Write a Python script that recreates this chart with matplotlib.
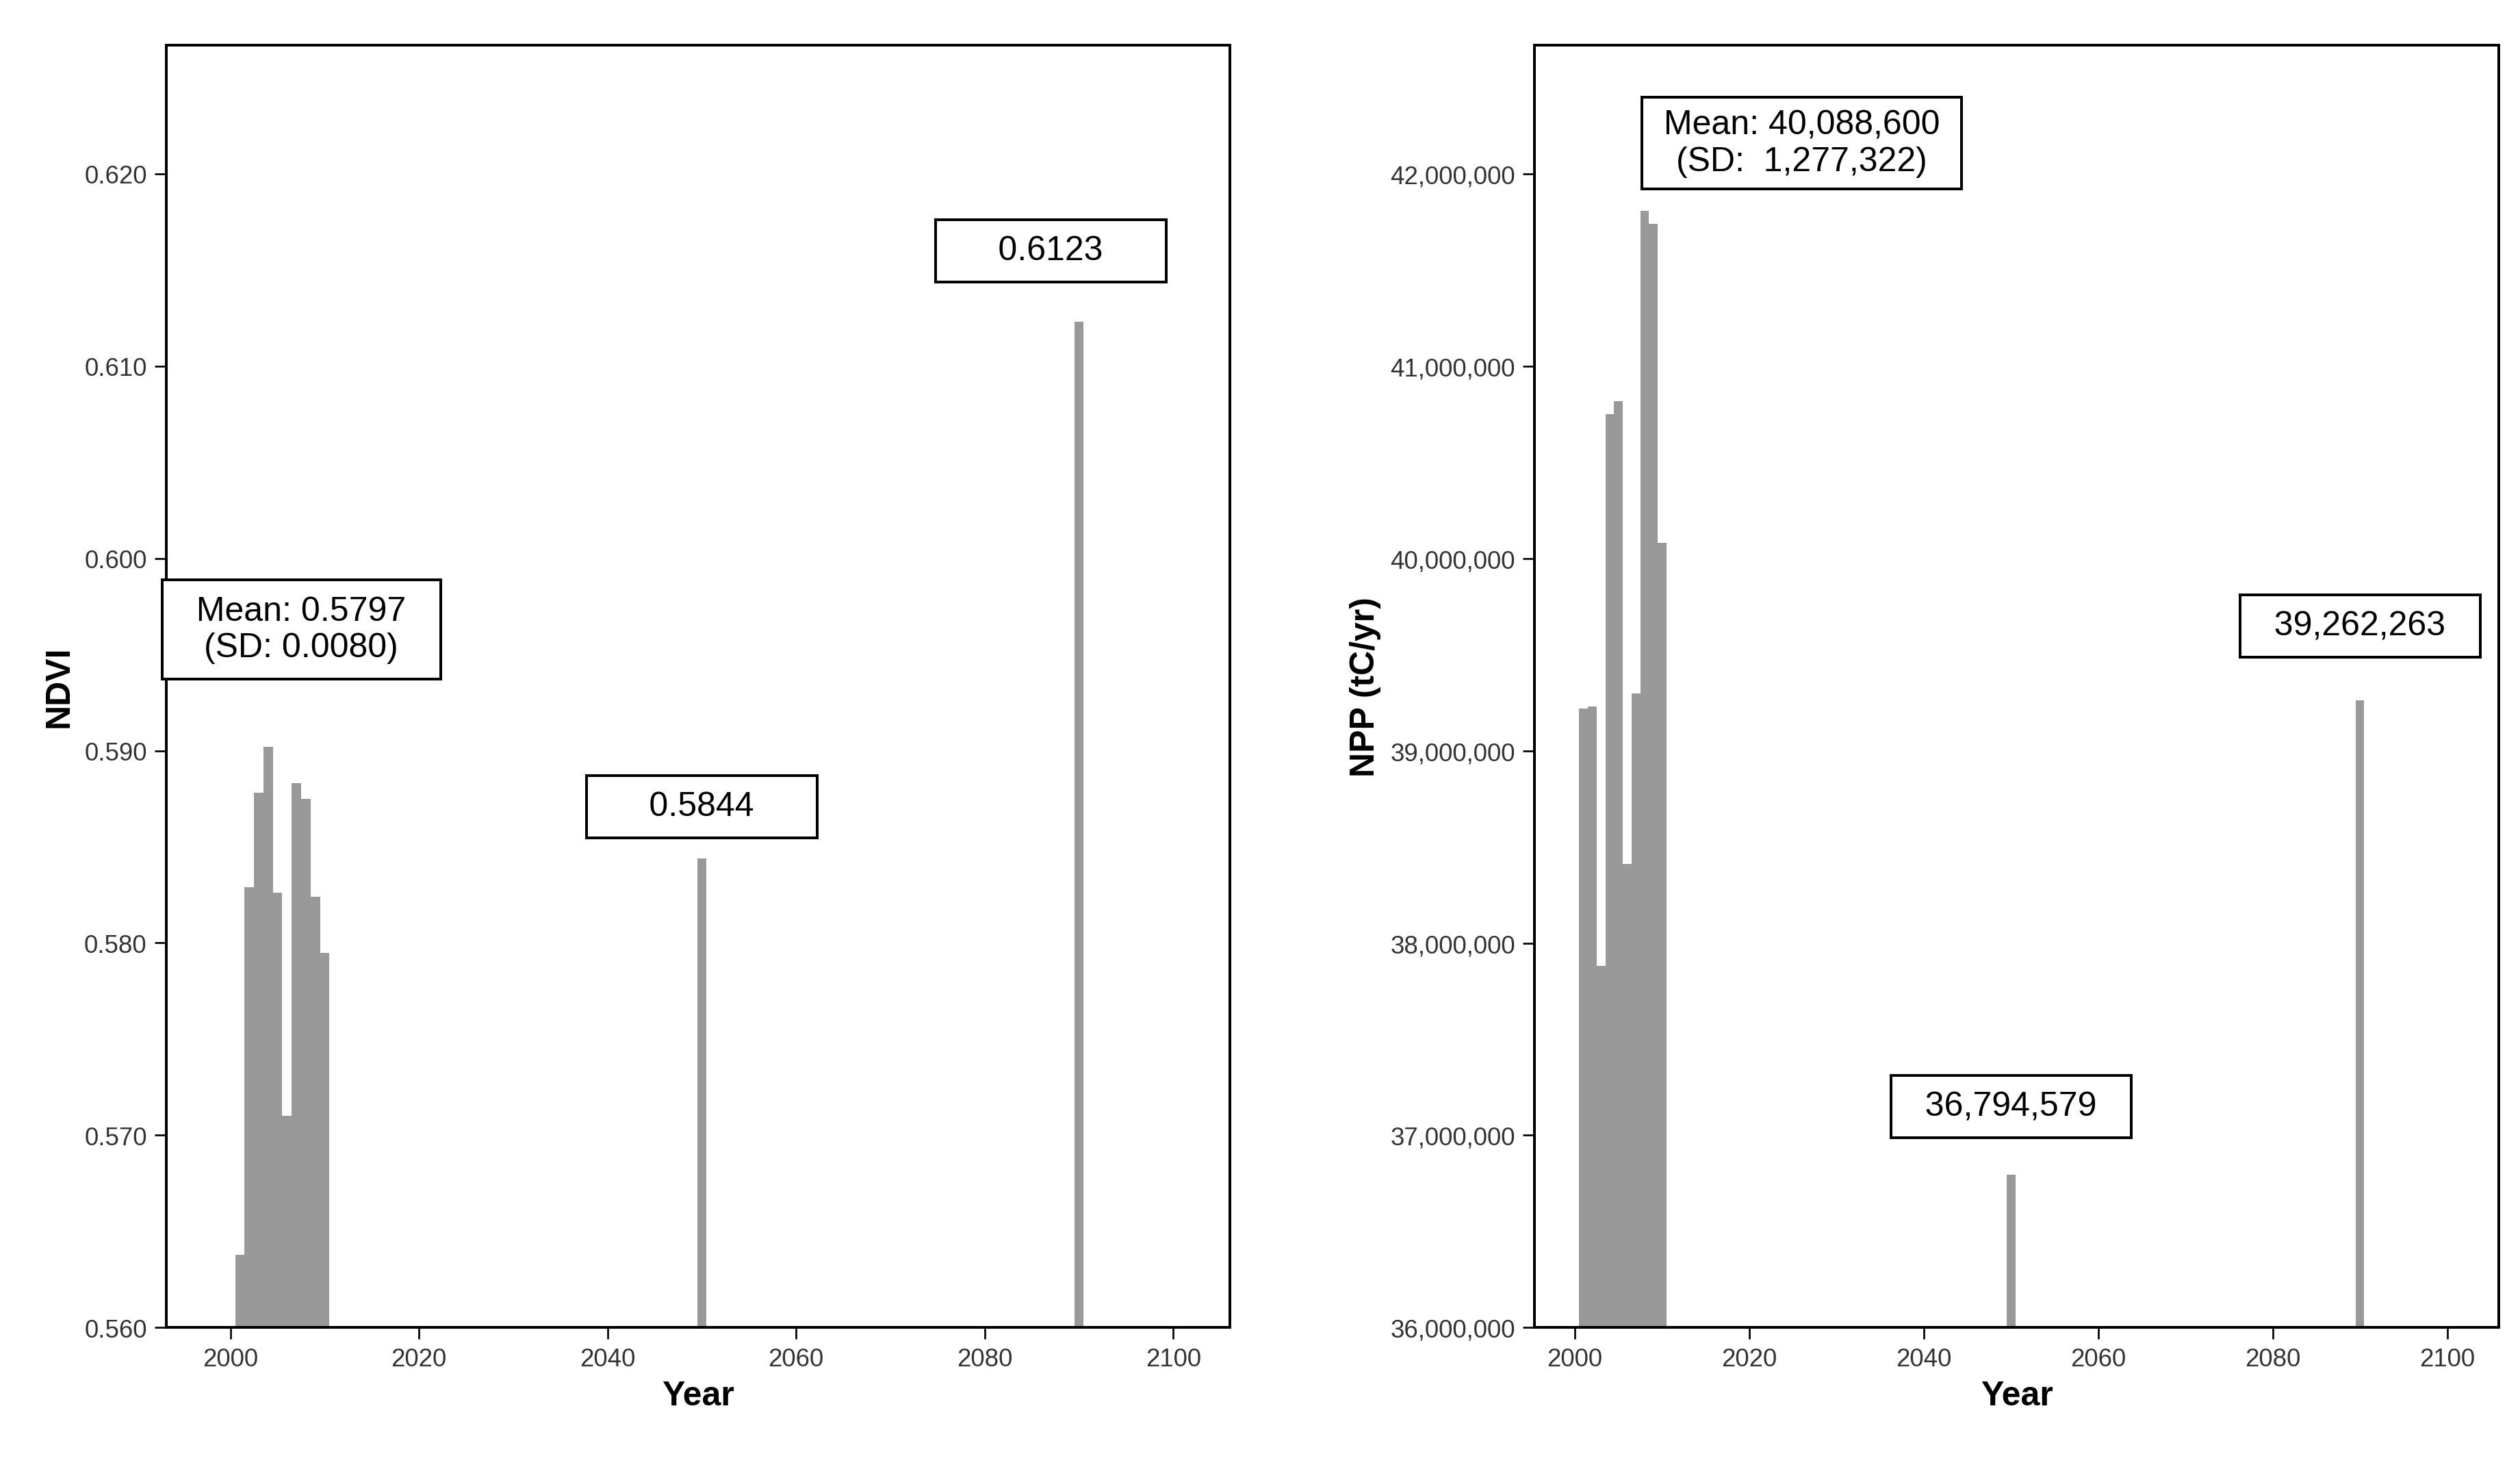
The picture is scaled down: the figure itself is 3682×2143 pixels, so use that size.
import matplotlib.pyplot as plt
from matplotlib.ticker import FuncFormatter

plt.rcParams['font.family'] = ['Liberation Sans', 'DejaVu Sans']

years = [2001, 2002, 2003, 2004, 2005, 2006, 2007, 2008, 2009, 2010, 2050, 2090]
ndvi = [0.5638, 0.5829, 0.5878, 0.5902, 0.5826, 0.5710, 0.5883, 0.5875, 0.5824, 0.5795, 0.5844, 0.6123]
npp = [39220000, 39230000, 37880000, 40750000, 40820000, 38410000, 39300000, 41810000, 41740000,
       40080000, 36794579, 39262263]

bar_color = '#999999'

fig = plt.figure(figsize=(15.342, 8.933), dpi=240)
ax1 = fig.add_axes([0.066, 0.095, 0.422, 0.874])
ax2 = fig.add_axes([0.609, 0.095, 0.3825, 0.874])

def style(ax):
    for s in ax.spines.values():
        s.set_linewidth(1.2)
    ax.tick_params(labelsize=11, colors='black', labelcolor='#333333', length=5)
    ax.set_xticks([2000, 2020, 2040, 2060, 2080, 2100])
    ax.set_xlabel('Year', fontsize=15, fontweight='bold')

def label(ax, x, y, s, pad=0.45):
    ax.text(x, y, s, fontsize=15, ha='center', va='center', linespacing=1.2,
            bbox=dict(boxstyle=f'square,pad={pad}', fc='white', ec='black', lw=1.2))

# NDVI
ax1.bar(years, [v - 0.56 for v in ndvi], bottom=0.56, width=1.0, color=bar_color, align='center')
ax1.set_xlim(1993.2, 2106)
ax1.set_ylim(0.56, 0.6267)
ax1.set_yticks([0.56, 0.57, 0.58, 0.59, 0.60, 0.61, 0.62])
ax1.yaxis.set_major_formatter(FuncFormatter(lambda v, p: f'{v:.3f}'))
ax1.set_ylabel('NDVI', fontsize=15, fontweight='bold')
style(ax1)
label(ax1, 2007.5, 0.5963, '  Mean: 0.5797  \n(SD: 0.0080)')
label(ax1, 2050, 0.5871, '     0.5844     ')
label(ax1, 2087, 0.6160, '     0.6123     ')

# NPP
ax2.bar(years, [v - 36e6 for v in npp], bottom=36e6, width=1.0, color=bar_color, align='center')
ax2.set_xlim(1995.4, 2105.9)
ax2.set_ylim(36e6, 42.672e6)
ax2.set_yticks([36e6, 37e6, 38e6, 39e6, 40e6, 41e6, 42e6])
ax2.yaxis.set_major_formatter(FuncFormatter(lambda v, p: f'{v:,.0f}'))
ax2.set_ylabel('NPP (tC/yr)', fontsize=15, fontweight='bold')
style(ax2)
label(ax2, 2026, 42.16e6, ' Mean: 40,088,600 \n(SD:  1,277,322)', pad=0.35)
label(ax2, 2050, 37.15e6, '  36,794,579  ')
label(ax2, 2090, 39.65e6, '  39,262,263  ')

fig.savefig('out.png', dpi=240)
